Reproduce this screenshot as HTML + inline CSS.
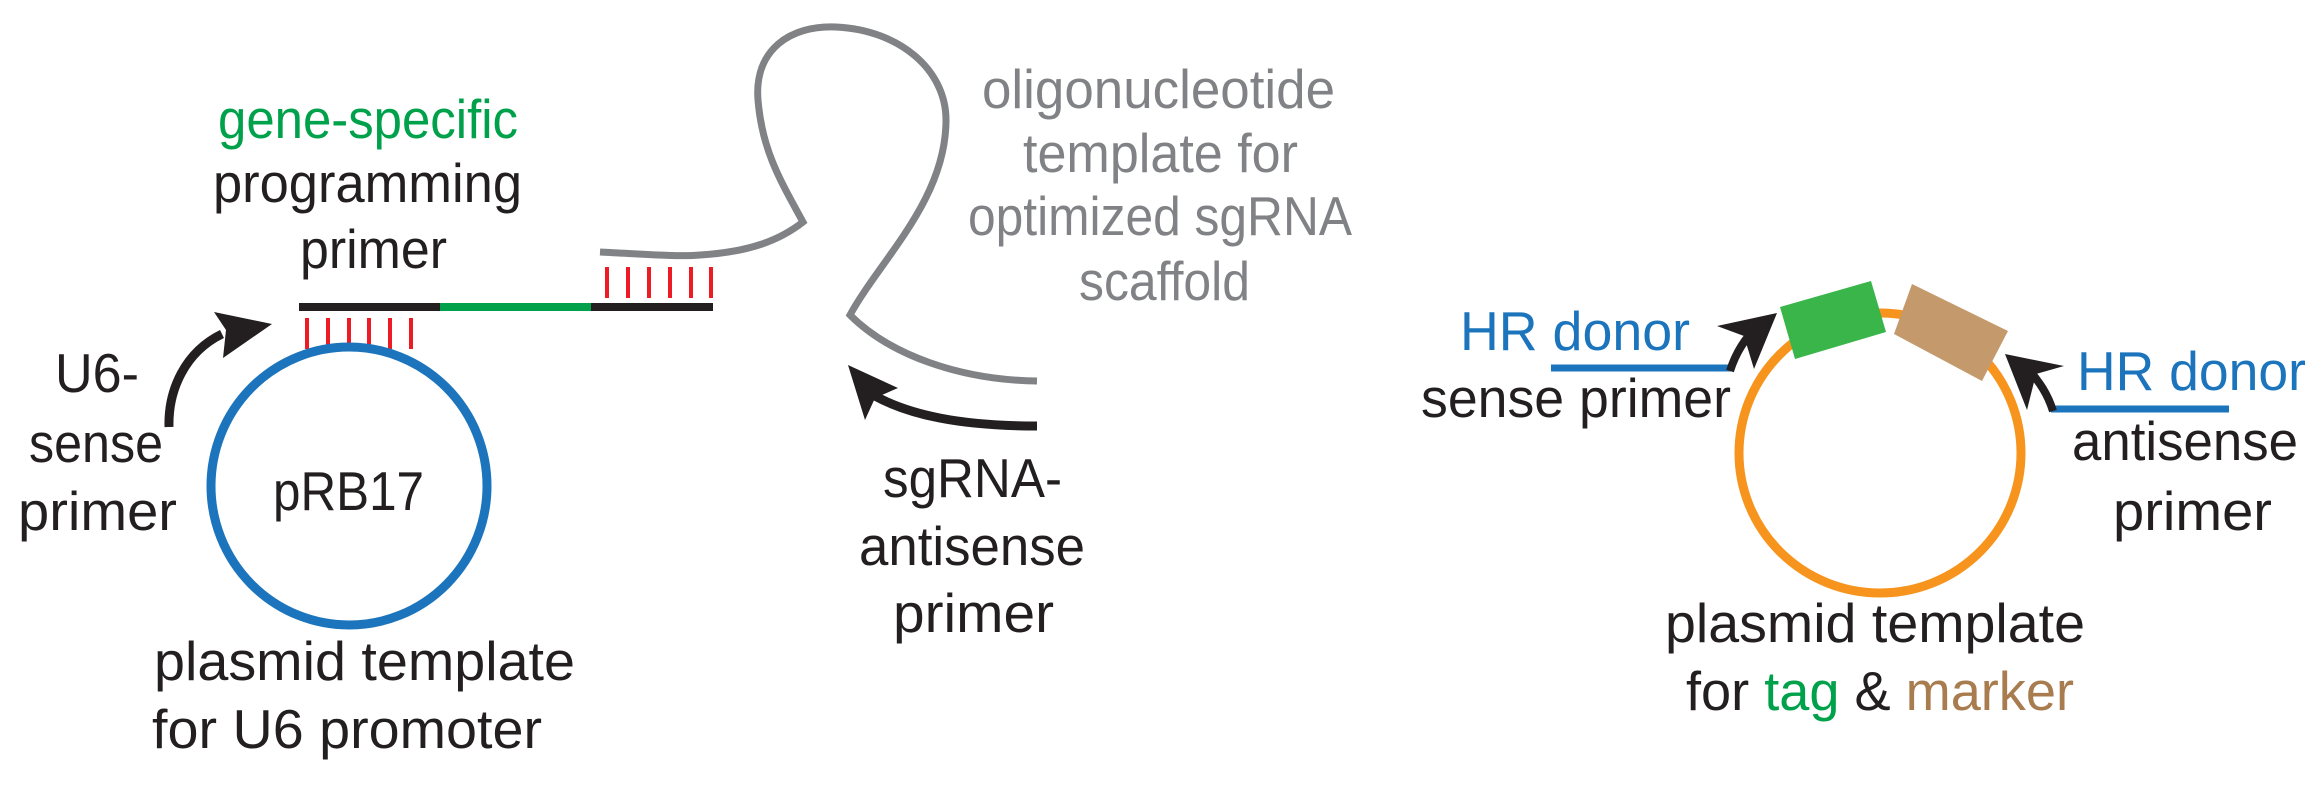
<!DOCTYPE html>
<html><head><meta charset="utf-8"><style>
html,body{margin:0;padding:0;background:#fff;}
svg{display:block;}
text{font-family:"Liberation Sans",sans-serif;font-size:55px;}
</style></head><body>
<svg width="2313" height="786" viewBox="0 0 2313 786" xmlns="http://www.w3.org/2000/svg">
<rect width="2313" height="786" fill="#fff"/>
<text x="218" y="138" fill="#00A14B" textLength="300" lengthAdjust="spacingAndGlyphs">gene-specific</text>
<text x="213" y="202" fill="#231F20" textLength="309" lengthAdjust="spacingAndGlyphs">programming</text>
<text x="300" y="268" fill="#231F20" textLength="147" lengthAdjust="spacingAndGlyphs">primer</text>
<line x1="299" y1="307" x2="440" y2="307" stroke="#231F20" stroke-width="8"/>
<line x1="440" y1="307" x2="591" y2="307" stroke="#00A14B" stroke-width="8"/>
<line x1="591" y1="307" x2="713" y2="307" stroke="#231F20" stroke-width="8"/>
<g stroke="#ED1C24" stroke-width="4">
<line x1="307" y1="318" x2="307" y2="349"/><line x1="328" y1="318" x2="328" y2="349"/><line x1="349" y1="318" x2="349" y2="349"/><line x1="369" y1="318" x2="369" y2="349"/><line x1="390" y1="318" x2="390" y2="349"/><line x1="411" y1="318" x2="411" y2="349"/>
<line x1="607" y1="267" x2="607" y2="298"/><line x1="628" y1="267" x2="628" y2="298"/><line x1="649" y1="267" x2="649" y2="298"/><line x1="670" y1="267" x2="670" y2="298"/><line x1="691" y1="267" x2="691" y2="298"/><line x1="711" y1="267" x2="711" y2="298"/>
</g>
<ellipse cx="349" cy="486" rx="138" ry="139" fill="none" stroke="#1C75BC" stroke-width="9"/>
<text x="273" y="510" fill="#231F20" textLength="151" lengthAdjust="spacingAndGlyphs">pRB17</text>
<path d="M169 427 C168 390 185 352 222 334" fill="none" stroke="#231F20" stroke-width="9"/>
<polygon points="272,324 214,312 226,330 223,358" fill="#231F20"/>
<text x="55" y="392" fill="#231F20" textLength="84" lengthAdjust="spacingAndGlyphs">U6-</text>
<text x="29" y="462" fill="#231F20" textLength="134" lengthAdjust="spacingAndGlyphs">sense</text>
<text x="18" y="530" fill="#231F20" textLength="159" lengthAdjust="spacingAndGlyphs">primer</text>
<text x="154" y="680" fill="#231F20" textLength="421" lengthAdjust="spacingAndGlyphs">plasmid template</text>
<text x="152" y="748" fill="#231F20" textLength="390" lengthAdjust="spacingAndGlyphs">for U6 promoter</text>
<path d="M600 252 C640 254 680 257 700 255 C750 252 780 240 803 222 C780 180 762 150 758 100 C754 50 790 25 836 27 C900 30 946 70 946 120 C946 200 880 260 850 315 C890 355 960 380 1037 381" fill="none" stroke="#808285" stroke-width="7"/>
<text x="982" y="108" fill="#808285" textLength="353" lengthAdjust="spacingAndGlyphs">oligonucleotide</text>
<text x="1023" y="172" fill="#808285" textLength="275" lengthAdjust="spacingAndGlyphs">template for</text>
<text x="968" y="235" fill="#808285" textLength="384" lengthAdjust="spacingAndGlyphs">optimized sgRNA</text>
<text x="1079" y="300" fill="#808285" textLength="171" lengthAdjust="spacingAndGlyphs">scaffold</text>
<path d="M1037 426 C960 426 910 415 875 396" fill="none" stroke="#231F20" stroke-width="9"/>
<polygon points="848,365 865,420 875,398 898,388" fill="#231F20"/>
<text x="883" y="497" fill="#231F20" textLength="179" lengthAdjust="spacingAndGlyphs">sgRNA-</text>
<text x="859" y="565" fill="#231F20" textLength="226" lengthAdjust="spacingAndGlyphs">antisense</text>
<text x="893" y="632" fill="#231F20" textLength="161" lengthAdjust="spacingAndGlyphs">primer</text>
<ellipse cx="1880" cy="453" rx="141" ry="140" fill="none" stroke="#F7941D" stroke-width="9"/>
<polygon points="1780,307 1871,281 1886,332 1795,359" fill="#39B54A"/>
<polygon points="1912,284 2008,331 1982,381 1894,334" fill="#C49A6C"/>
<line x1="1551" y1="368" x2="1731" y2="368" stroke="#1C75BC" stroke-width="7"/>
<line x1="2051" y1="409" x2="2229" y2="409" stroke="#1C75BC" stroke-width="7"/>
<path d="M1730 371 C1736 352 1745 338 1758 326" fill="none" stroke="#231F20" stroke-width="8"/>
<polygon points="1777,313 1717,326 1744,336 1754,369" fill="#231F20"/>
<path d="M2053 411 C2048 395 2040 382 2027 368" fill="none" stroke="#231F20" stroke-width="8"/>
<polygon points="2005,354 2064,366 2036,374 2027,410" fill="#231F20"/>
<text x="1460" y="350" fill="#1C75BC" textLength="230" lengthAdjust="spacingAndGlyphs">HR donor</text>
<text x="1421" y="417" fill="#231F20" textLength="310" lengthAdjust="spacingAndGlyphs">sense primer</text>
<text x="2077" y="390" fill="#1C75BC" textLength="229" lengthAdjust="spacingAndGlyphs">HR donor</text>
<text x="2072" y="460" fill="#231F20" textLength="226" lengthAdjust="spacingAndGlyphs">antisense</text>
<text x="2113" y="530" fill="#231F20" textLength="159" lengthAdjust="spacingAndGlyphs">primer</text>
<text x="1665" y="642" fill="#231F20" textLength="420" lengthAdjust="spacingAndGlyphs">plasmid template</text>
<text x="1686" y="710" fill="#231F20" textLength="388" lengthAdjust="spacingAndGlyphs">for <tspan fill="#00A14B">tag</tspan> &amp; <tspan fill="#A97C50">marker</tspan></text>
</svg>
</body></html>
